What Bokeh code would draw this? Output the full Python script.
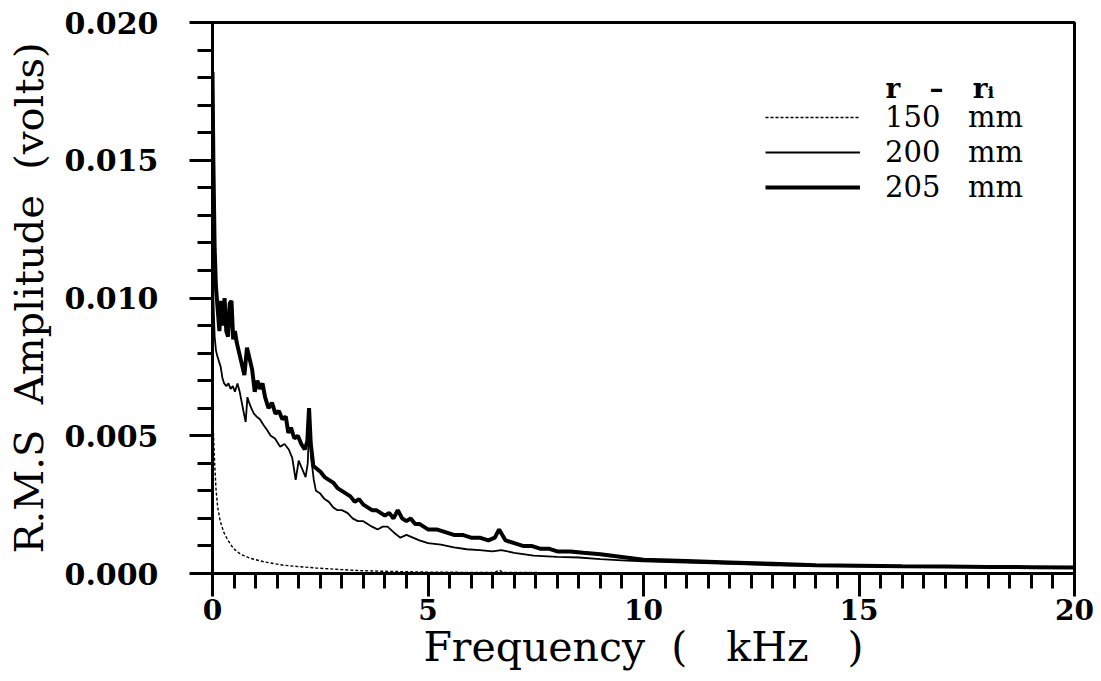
from bokeh.plotting import figure
from bokeh.models import Range1d, FixedTicker, NumeralTickFormatter, Legend, LegendItem, Label
from bokeh.embed import file_html
from bokeh.resources import INLINE

# ---- data ----
f205 = [0, 0.02, 0.05, 0.08, 0.12, 0.16, 0.2, 0.24, 0.28, 0.32, 0.36, 0.40, 0.44, 0.48, 0.52,
        0.56, 0.62, 0.68, 0.74, 0.8, 0.86, 0.92, 0.98, 1.04, 1.1, 1.16, 1.22, 1.3, 1.38, 1.46,
        1.54, 1.62, 1.7, 1.76, 1.82, 1.9, 1.98, 2.06, 2.14, 2.2, 2.24, 2.28, 2.34, 2.42, 2.5,
        2.6, 2.7, 2.8, 2.9, 3.0, 3.1, 3.2, 3.3, 3.4, 3.5, 3.6, 3.7, 3.8, 3.9, 4.0,
        4.1, 4.2, 4.3, 4.4, 4.5, 4.6, 4.7, 4.8, 5.0, 5.2, 5.4, 5.6, 5.8, 6.0, 6.2,
        6.4, 6.55, 6.65, 6.8, 7.0, 7.2, 7.4, 7.6, 7.8, 8.0, 8.3, 8.6, 9.0, 9.5, 10,
        11, 12, 13, 14, 15, 16, 17, 18, 19, 20]
v205 = [0.0182, 0.0150, 0.0118, 0.0104, 0.0096, 0.0088, 0.0099, 0.0090, 0.0100, 0.0088,
        0.0086, 0.0098, 0.0099, 0.0085, 0.0088, 0.0084, 0.0080, 0.0076, 0.0072, 0.0082,
        0.0078, 0.0074, 0.0066, 0.0070, 0.0067, 0.0069, 0.0064, 0.0060, 0.0062, 0.0058,
        0.0059, 0.0056, 0.0057, 0.0051, 0.0053, 0.0049, 0.0050, 0.0047, 0.0045, 0.0048,
        0.0060, 0.0047, 0.0039, 0.0038, 0.0037, 0.0035, 0.0034, 0.0033, 0.0031, 0.0030,
        0.0029, 0.0028, 0.0026, 0.0027, 0.0025, 0.0024, 0.0023, 0.0023, 0.0022, 0.0021,
        0.0022, 0.0020, 0.0023, 0.0020, 0.0019, 0.0020, 0.0018, 0.0018, 0.0016, 0.0016,
        0.0015, 0.0014, 0.0014, 0.0013, 0.0013, 0.0012, 0.0013, 0.0016, 0.0012, 0.0011,
        0.0010, 0.0010, 0.0009, 0.0009, 0.0008, 0.0008, 0.00075, 0.0007, 0.0006, 0.0005,
        0.00045, 0.0004, 0.00035, 0.0003, 0.00028, 0.00026, 0.00025, 0.00024, 0.00023, 0.00022]

f200 = [0, 0.02, 0.05, 0.08, 0.11, 0.15, 0.19, 0.23, 0.27, 0.32, 0.37, 0.42, 0.47, 0.52, 0.58,
        0.63, 0.68, 0.73, 0.77, 0.81, 0.85, 0.9, 0.96, 1.02, 1.1, 1.18, 1.27, 1.35, 1.45, 1.57,
        1.67, 1.77, 1.85, 1.93, 2.0, 2.08, 2.16, 2.21, 2.25, 2.29, 2.35, 2.4, 2.5, 2.6, 2.7,
        2.8, 2.9, 3.0, 3.13, 3.25, 3.37, 3.5, 3.6, 3.7, 3.83, 3.95, 4.06, 4.2, 4.36, 4.5,
        4.65, 4.8, 5.0, 5.3, 5.6, 5.9, 6.2, 6.5, 6.7, 7.0, 7.45, 8.0, 8.5, 9.0, 9.5,
        10, 11, 12, 13, 14, 15, 16, 17, 18, 19, 20]
v200 = [0.0125, 0.0100, 0.0086, 0.0081, 0.0079, 0.0077, 0.0075, 0.0071, 0.0069, 0.0068,
        0.0069, 0.0067, 0.0068, 0.0066, 0.0069, 0.0066, 0.0062, 0.0058, 0.0055, 0.0064,
        0.0062, 0.0060, 0.0058, 0.0057, 0.0056, 0.0054, 0.0052, 0.0050, 0.0049, 0.0046,
        0.0047, 0.0045, 0.0042, 0.0034, 0.0041, 0.0038, 0.0035, 0.0040, 0.0056, 0.0042,
        0.0034, 0.0030, 0.0029, 0.0027, 0.0026, 0.0024, 0.0023, 0.0023, 0.0022, 0.0020,
        0.0019, 0.0019, 0.0018, 0.0017, 0.0016, 0.0017, 0.0017, 0.0015, 0.0013, 0.0014,
        0.0013, 0.0012, 0.0011, 0.00105, 0.00095, 0.00088, 0.00085, 0.0008, 0.00085, 0.00075,
        0.00065, 0.0006, 0.00058, 0.00052, 0.00048, 0.00044, 0.0004, 0.00035, 0.0003, 0.00028,
        0.00026, 0.00025, 0.00024, 0.00023, 0.00022, 0.00021]

f150 = [0, 0.02, 0.05, 0.08, 0.12, 0.18, 0.26, 0.36, 0.49, 0.65, 0.88, 1.2, 1.65, 2.0,
        2.4, 3.0, 3.5, 4.0, 5.0, 6.0, 6.55, 6.65, 6.75, 8, 10, 12, 15, 20]
v150 = [0.0062, 0.0052, 0.0040, 0.0031, 0.0024, 0.0019, 0.0015, 0.0012, 0.0009, 0.0007,
        0.00055, 0.00042, 0.0003, 0.00025, 0.0002, 0.00014, 0.0001, 0.00008, 0.00005, 0.00004,
        0.00004, 0.00012, 0.00004, 0.00003, 0.00002, 0.00002, 0.00001, 0.00001]

NB = "\u00a0"
series_labels = ["150 " + NB + " mm", "200 " + NB + " mm", "205 " + NB + " mm"]
legend_title = "r " + NB + " \u2013 " + NB + " r\u1d62"
x_ticks = [0, 5, 10, 15, 20]
y_ticks = [0.0, 0.005, 0.010, 0.015, 0.020]
x_title = "Frequency " + NB + "( " + NB + " kHz " + NB + " )"
y_title = "R.M.S " + NB + "Amplitude " + NB + "(volts)"

SERIF = "DejaVu Serif"

p = figure(width=1101, height=681, output_backend="svg", toolbar_location=None,
           x_range=Range1d(0, 20), y_range=Range1d(0, 0.02),
           min_border_left=212, min_border_right=27, min_border_top=22, min_border_bottom=108)

p.xgrid.visible = False
p.ygrid.visible = False
p.outline_line_color = "black"
p.outline_line_width = 3
p.background_fill_color = "white"
p.border_fill_color = "white"

r150 = p.line(f150, v150, line_color="black", line_width=1.4, line_dash="3 2")
r200 = p.line(f200, v200, line_color="black", line_width=1.8)
r205 = p.line(f205, v205, line_color="black", line_width=4)

for ax in (p.xaxis[0], p.yaxis[0]):
    ax.axis_line_width = 3
    ax.major_tick_line_width = 3
    ax.minor_tick_line_width = 3
    ax.major_tick_in = 0
    ax.minor_tick_in = 0
    ax.major_tick_out = 23
    ax.minor_tick_out = 15
    ax.major_label_text_font = SERIF
    ax.major_label_text_font_style = "bold"
    ax.major_label_text_color = "black"
    ax.axis_label_text_font = SERIF
    ax.axis_label_text_font_style = "normal"
    ax.axis_label_text_color = "black"

p.xaxis.major_label_text_font_size = "28px"
p.yaxis.major_label_text_font_size = "30px"
p.xaxis.axis_label_text_font_size = "41px"
p.yaxis.axis_label_text_font_size = "40px"

p.xaxis.ticker = FixedTicker(ticks=x_ticks, minor_ticks=[i * 0.5 for i in range(41)])
p.yaxis.ticker = FixedTicker(ticks=y_ticks, minor_ticks=[i * 0.001 for i in range(21)])
p.yaxis.formatter = NumeralTickFormatter(format="0.000")
p.xaxis.major_label_standoff = 2
p.yaxis.major_label_standoff = 31
p.xaxis.axis_label = x_title
p.yaxis.axis_label = y_title
p.xaxis.axis_label_standoff = 0
p.yaxis.axis_label_standoff = 10

legend = Legend(items=[LegendItem(label=series_labels[0], renderers=[r150]),
                       LegendItem(label=series_labels[1], renderers=[r200]),
                       LegendItem(label=series_labels[2], renderers=[r205])],
                location=(553, 369),
                label_text_font=SERIF, label_text_font_size="29px", label_text_color="black",
                glyph_width=95, glyph_height=32, label_height=32, spacing=1,
                label_standoff=25, padding=0, margin=0,
                border_line_color=None, background_fill_alpha=0)
p.add_layout(legend, "center")

title_label = Label(x=673, y=485, x_units="screen", y_units="screen", text=legend_title,
                    text_font=SERIF, text_font_style="bold", text_font_size="28px",
                    text_color="black", text_baseline="alphabetic", text_align="left")
p.add_layout(title_label)

open("out.html", "w").write(file_html(p, INLINE))
